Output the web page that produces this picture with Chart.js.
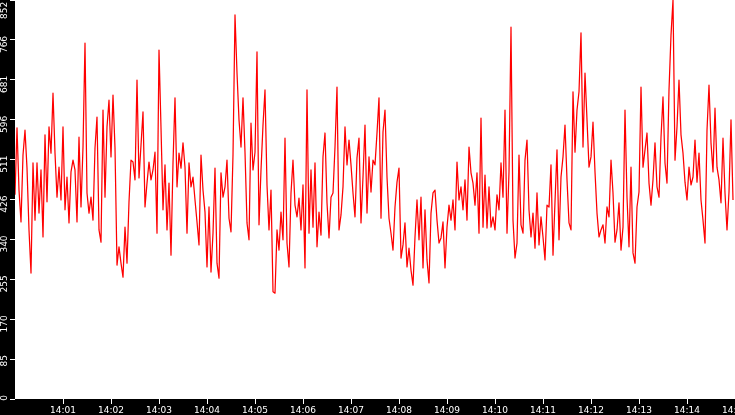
<!DOCTYPE html>
<html>
<head>
<meta charset="utf-8">
<title>Samples per 2.5 s</title>
<script src="https://cdn.jsdelivr.net/npm/chart.js@4.4.1/dist/chart.umd.min.js"></script>
<style>
    html, body { margin: 0; padding: 0; background: #000; overflow: hidden; }
    #chart { display: block; }
</style>
</head>
<body>
<canvas id="chart" width="735" height="415"></canvas>
<script>
// One reading every 2.5 s, from 14:00:00 to 14:15:00, split in 2.5 minute blocks
const SAMPLE_STEP = 2.5;

const from1400 = [
    436, 579, 446, 378, 521, 574, 493, 361, 269, 504,
    382, 504, 397, 489, 346, 564, 421, 581, 525, 653,
    525, 431, 495, 425, 581, 404, 474, 376, 485, 510,
    489, 378, 559, 410, 538, 760, 440, 397, 431, 382,
    536, 602, 361, 335, 617, 431, 581, 638, 517, 649,
    536, 286, 325, 290, 260, 367, 290, 421, 510, 506
];
const from1402 = [
    468, 681, 472, 542, 613, 410, 461, 506, 468, 489,
    527, 354, 745, 579, 404, 500, 361, 461, 307, 504,
    643, 453, 525, 493, 547, 495, 354, 504, 453, 474,
    425, 378, 329, 521, 446, 399, 282, 410, 271, 354,
    493, 290, 258, 483, 431, 453, 510, 386, 357, 521,
    820, 696, 596, 538, 643, 527, 376, 340, 589, 489
];
const from1405 = [
    527, 741, 372, 489, 585, 660, 457, 361, 446, 229,
    226, 361, 318, 399, 340, 557, 333, 282, 440, 510,
    414, 389, 429, 361, 457, 280, 660, 354, 489, 367,
    504, 325, 399, 350, 517, 568, 419, 344, 431, 440,
    538, 666, 361, 393, 453, 581, 500, 553, 500, 440,
    389, 515, 557, 376, 474, 585, 397, 517, 442, 510
];
const from1407 = [
    500, 568, 643, 386, 570, 617, 474, 386, 354, 318,
    410, 463, 493, 301, 329, 376, 282, 322, 275, 243,
    346, 425, 340, 431, 280, 404, 297, 248, 397, 440,
    446, 382, 333, 344, 378, 280, 367, 414, 382, 425,
    361, 506, 425, 453, 404, 468, 382, 538, 483, 461,
    414, 483, 354, 600, 367, 478, 365, 453, 367, 389
];
const from1410 = [
    361, 436, 404, 504, 431, 617, 354, 485, 794, 382,
    301, 333, 521, 372, 354, 510, 553, 404, 346, 397,
    322, 440, 329, 389, 346, 297, 414, 410, 500, 307,
    421, 532, 340, 474, 517, 585, 468, 376, 361, 656,
    527, 617, 656, 782, 538, 696, 596, 495, 517, 591,
    485, 397, 346, 361, 372, 333, 410, 389, 510, 440
];
const from1412 = [
    335, 361, 419, 318, 367, 617, 431, 325, 495, 312,
    290, 410, 442, 666, 495, 532, 568, 461, 414, 468,
    547, 453, 431, 559, 645, 504, 461, 660, 777, 852,
    510, 581, 681, 564, 525, 463, 425, 495, 457, 474,
    553, 463, 525, 425, 382, 333, 574, 670, 547, 485,
    621, 495, 468, 419, 557, 440, 361, 442, 596, 425
];

const yTickLabels = ['0', '85', '170', '255', '340', '426', '511', '596', '681', '766', '852'];
const xTickLabels = ['', '14:01', '14:02', '14:03', '14:04', '14:05', '14:06', '14:07',
    '14:08', '14:09', '14:10', '14:11', '14:12', '14:13', '14:14', '14:15'];

const values = [].concat(from1400, from1402, from1405, from1407, from1410, from1412);
const points = values.map((v, i) => ({ x: i * SAMPLE_STEP, y: v }));

// black frame, white plotting area
const plotBackground = {
    id: 'plotBackground',
    beforeDraw(chart) {
        const { ctx, chartArea: a } = chart;
        ctx.save();
        ctx.fillStyle = '#000';
        ctx.fillRect(0, 0, chart.width, chart.height);
        ctx.fillStyle = '#fff';
        ctx.fillRect(a.left, a.top, a.right - a.left, a.bottom - a.top);
        ctx.restore();
    }
};

Chart.defaults.font.family = 'DejaVu Sans';
Chart.defaults.font.size = 9;

new Chart(document.getElementById('chart').getContext('2d'), {
    type: 'line',
    data: {
        datasets: [{
            data: points,
            borderColor: '#ff0000',
            borderWidth: 1.25,
            borderJoinStyle: 'round',
            pointRadius: 0,
            tension: 0,
            fill: false
        }]
    },
    options: {
        responsive: false,
        devicePixelRatio: 1,
        animation: false,
        layout: { padding: 0 },
        plugins: {
            legend: { display: false },
            tooltip: { enabled: false }
        },
        scales: {
            x: {
                type: 'linear',
                position: 'bottom',
                min: 0,
                max: 900,
                border: { display: false },
                grid: {
                    drawOnChartArea: false,
                    tickLength: 5,
                    tickColor: c => c.index === 0 ? 'rgba(0,0,0,0)' : '#fff'
                },
                ticks: {
                    stepSize: 60,
                    autoSkip: false,
                    minRotation: 0,
                    maxRotation: 0,
                    padding: 1,
                    color: '#fff',
                    callback: (v, i) => xTickLabels[i] ?? ''
                },
                afterFit: s => { s.height = 16; s.paddingLeft = 0; s.paddingRight = 0; }
            },
            y: {
                type: 'linear',
                position: 'left',
                min: 0,
                max: 852,
                border: { display: false },
                grid: {
                    drawOnChartArea: false,
                    tickLength: 5,
                    tickColor: '#fff'
                },
                ticks: {
                    stepSize: 85.2,
                    autoSkip: false,
                    minRotation: 90,
                    maxRotation: 90,
                    padding: 5,
                    labelOffset: -4,
                    color: '#fff',
                    // the top label is pushed down so it stays inside the frame
                    callback: (v, i) => i === yTickLabels.length - 1
                        ? yTickLabels[i] + '  '
                        : (yTickLabels[i] ?? '')
                },
                afterFit: s => { s.width = 15; s.paddingTop = 0; s.paddingBottom = 0; }
            }
        }
    },
    plugins: [plotBackground]
});
</script>
</body>
</html>
